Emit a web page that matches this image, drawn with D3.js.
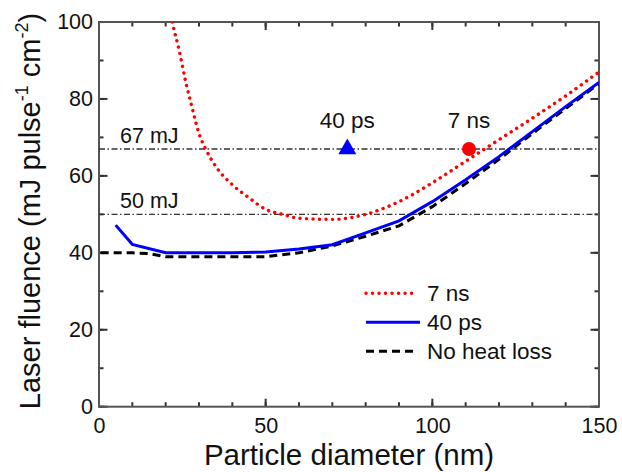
<!DOCTYPE html>
<html>
  <head>
    <meta charset="utf-8">
    <title>Laser fluence vs particle diameter</title>
    <script src="https://d3js.org/d3.v7.min.js"></script>
    <style>
      body { margin: 0; background: #fff; }
      svg { font-family: "Liberation Sans", Arial, sans-serif; }
      .tick text { font-size: 21.5px; fill: #111; }
    </style>
  </head>
  <body>
    <svg id="chart" width="622" height="472"></svg>
    <script>
      // data (diameter nm, fluence mJ pulse-1 cm-2)
      var ns7 = [[20,110],[22,100],[24,92.8],[26,84.5],[28,77.5],[30,71],[32,67],[35,62.5],[40,57.7],[45,54.3],[50,51.3],[55,50],[60,49],[70,48.7],[80,50],[90,53.3],[100,58.2],[110,63.8],[120,69.4],[130,75],[140,80.8],[150,87]];
      var ps40 = [[5,47.2],[10,42.2],[20,40],[30,40],[40,40],[50,40.2],[60,41],[70,42.1],[80,45.2],[90,48.3],[100,53.3],[110,59],[120,65],[130,71.5],[140,78],[150,84.3]];
      var noLoss = [[0.5,40],[5,40],[10,40],[15,39.8],[20,39],[30,39],[40,39],[50,39],[60,40],[70,41.8],[80,44.3],[90,47],[100,52],[110,58],[120,64.3],[130,71],[140,77.5],[150,84]];
      var refLines = [67, 50];
      var refLabels = ["67 mJ", "50 mJ"];
      var points = [
        { name: "40 ps", x: 74.5, y: 67 },
        { name: "7 ns", x: 111, y: 67 }
      ];
      var legendNames = ["7 ns", "40 ps", "No heat loss"];
      var xTicks = [0, 50, 100, 150];
      var yTicks = [0, 20, 40, 60, 80, 100];

      var svg = d3.select("#chart");
      var x = d3.scaleLinear().domain([0, 150]).range([99, 599]);
      var y = d3.scaleLinear().domain([0, 100]).range([406.7, 22]);
      var minorX = d3.range(0, 151, 10);
      var minorY = d3.range(0, 101, 10);

      svg.append("clipPath").attr("id", "plotClip")
        .append("rect")
          .attr("x", x(0)).attr("y", y(100))
          .attr("width", x(150) - x(0)).attr("height", y(0) - y(100));

      // tick labels from d3 axes
      svg.append("g")
        .attr("transform", "translate(0," + y(0) + ")")
        .call(d3.axisBottom(x).tickValues(xTicks).tickSize(0).tickPadding(11))
        .call(function(g) { g.select(".domain").remove(); });
      svg.append("g")
        .attr("transform", "translate(" + x(0) + ",0)")
        .call(d3.axisLeft(y).tickValues(yTicks).tickSize(0).tickPadding(6))
        .call(function(g) { g.select(".domain").remove(); });

      // inward tick marks on all four sides
      var tickG = svg.append("g");
      function xMarks(values, len) {
        [y(0), y(100)].forEach(function(y0, side) {
          var dir = side === 0 ? -1 : 1;
          values.forEach(function(d) {
            tickG.append("line")
              .attr("x1", x(d)).attr("x2", x(d))
              .attr("y1", y0).attr("y2", y0 + dir * len)
              .style("stroke", "#333").style("stroke-width", "2px");
          });
        });
      }
      function yMarks(values, len) {
        [x(0), x(150)].forEach(function(x0, side) {
          var dir = side === 0 ? 1 : -1;
          values.forEach(function(d) {
            tickG.append("line")
              .attr("y1", y(d)).attr("y2", y(d))
              .attr("x1", x0).attr("x2", x0 + dir * len)
              .style("stroke", "#333").style("stroke-width", "2px");
          });
        });
      }
      xMarks(minorX, 4.5);
      xMarks(xTicks, 8);
      yMarks(minorY, 4.5);
      yMarks(yTicks, 8.5);

      // frame
      svg.append("rect")
        .attr("x", x(0)).attr("y", y(100))
        .attr("width", x(150) - x(0)).attr("height", y(0) - y(100))
        .attr("fill", "none").attr("stroke", "#555").attr("stroke-width", 2);

      // reference lines
      svg.selectAll(".ref").data(refLines).enter().append("line")
        .attr("class", "ref")
        .attr("x1", x(0)).attr("x2", x(150))
        .attr("y1", function(d) { return y(d); }).attr("y2", function(d) { return y(d); })
        .attr("stroke", "#333").attr("stroke-width", 1.4)
        .attr("stroke-dasharray", "6,2.5,1.5,2.5");
      svg.selectAll(".refLabel").data(refLines).enter().append("text")
        .attr("x", x(6.3))
        .attr("y", function(d) { return y(d) - 6; })
        .attr("font-size", 21.5).attr("fill", "#111")
        .text(function(d, i) { return refLabels[i]; });

      // curves
      var line = d3.line().x(function(d) { return x(d[0]); }).y(function(d) { return y(d[1]); });
      var plot = svg.append("g").attr("clip-path", "url(#plotClip)");
      plot.append("path").datum(noLoss)
        .attr("d", line)
        .attr("fill", "none").attr("stroke", "#000").attr("stroke-width", 3)
        .attr("stroke-dasharray", "8,5");
      plot.append("path").datum(ps40)
        .attr("d", line)
        .attr("fill", "none").attr("stroke", "#0000ff").attr("stroke-width", 3);
      plot.append("path").datum(ns7)
        .attr("d", line.curve(d3.curveMonotoneX))
        .attr("fill", "none").attr("stroke", "#ff0000").attr("stroke-width", 3.4)
        .attr("stroke-linecap", "round").attr("stroke-dasharray", "0.1,6.4");

      // markers
      svg.append("path")
        .attr("d", d3.symbol().type(d3.symbolTriangle).size(140)())
        .attr("transform", "translate(" + x(points[0].x) + "," + y(points[0].y) + ")")
        .attr("fill", "#0000ff");
      svg.append("circle")
        .attr("cx", x(points[1].x)).attr("cy", y(points[1].y)).attr("r", 7)
        .attr("fill", "#ff0000");
      svg.selectAll(".ptLabel").data(points).enter().append("text")
        .attr("x", function(d) { return x(d.x); })
        .attr("y", function(d) { return y(d.y) - 21; })
        .attr("text-anchor", "middle")
        .attr("font-size", 22.5).attr("fill", "#111")
        .text(function(d) { return d.name; });

      // legend
      var legendStyles = [
        { stroke: "#ff0000", dash: "0.1,6.4", cap: "round", x2: 415 },
        { stroke: "#0000ff", dash: null, cap: "butt", x2: 420 },
        { stroke: "#000", dash: "8,5", cap: "butt", x2: 418 }
      ];
      var legend = svg.selectAll(".legend").data(legendNames).enter().append("g")
        .attr("transform", function(d, i) { return "translate(0," + (293.3 + i * 29) + ")"; });
      legend.append("line")
        .attr("x1", 366).attr("x2", function(d, i) { return legendStyles[i].x2; })
        .attr("y1", 0).attr("y2", 0)
        .attr("stroke", function(d, i) { return legendStyles[i].stroke; })
        .attr("stroke-width", function(d, i) { return i === 0 ? 3.4 : 3; })
        .attr("stroke-linecap", function(d, i) { return legendStyles[i].cap; })
        .attr("stroke-dasharray", function(d, i) { return legendStyles[i].dash; });
      legend.append("text")
        .attr("x", 427).attr("y", 8)
        .attr("font-size", 22.5).attr("fill", "#111")
        .text(function(d) { return d; });

      // axis titles
      svg.append("text")
        .attr("x", (x(0) + x(150)) / 2).attr("y", 465)
        .attr("text-anchor", "middle")
        .attr("font-size", 29.5).attr("fill", "#111")
        .text("Particle diameter (nm)");
      var yTitle = svg.append("text")
        .attr("transform", "translate(40,211) rotate(-90)")
        .attr("text-anchor", "middle")
        .attr("font-size", 29).attr("fill", "#111");
      yTitle.append("tspan").text("Laser fluence (mJ pulse");
      yTitle.append("tspan").attr("dy", -12).attr("font-size", 18).text("-1");
      yTitle.append("tspan").attr("dy", 12).text(" cm");
      yTitle.append("tspan").attr("dy", -12).attr("font-size", 18).text("-2");
      yTitle.append("tspan").attr("dy", 12).text(")");
    </script>
  </body>
</html>
